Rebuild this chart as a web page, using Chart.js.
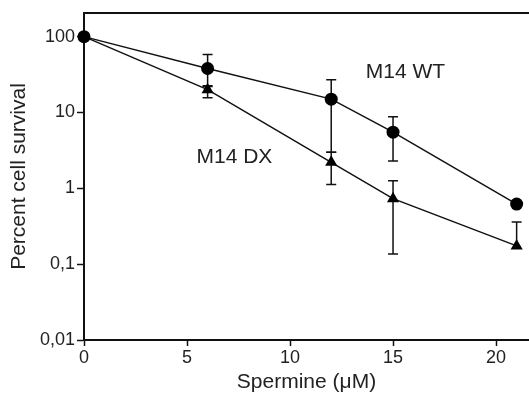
<!DOCTYPE html>
<html>
<head>
<meta charset="utf-8">
<script src="https://cdn.jsdelivr.net/npm/chart.js@4.4.1/dist/chart.umd.min.js"></script>
<style>
  html, body { margin: 0; padding: 0; background: #fff; }
  #wrap { width: 529px; height: 395px; }
</style>
</head>
<body>
<div id="wrap"><canvas id="chart" width="529" height="395"></canvas></div>
<script>
// spermine concentration (µM)
const spermine = [0, 6, 12, 15, 21];

// M14 WT - percent survival, with error bar ends
const wtSurvival = [100, 38, 15, 5.5, 0.62];
const wtUpper    = [null, 58, 27, 8.8, null];
const wtLower    = [null, 22, 3.0, 2.3, null];

// M14 DX
const dxSurvival = [100, 20, 2.2, 0.73, 0.174];
const dxUpper    = [null, 22.5, 3.0, 1.26, 0.36];
const dxLower    = [null, 15.6, 1.12, 0.136, null];

const xTicks = [0, 5, 10, 15, 20];
const yTicks = [100, 10, 1, 0.1, 0.01];
const yTickLabels = ['100', '10', '1', '0,1', '0,01'];

const FONT = '"Liberation Sans", Arial, Helvetica, sans-serif';

const toPoints = (xs, ys) => xs.map((x, i) => ({ x: x, y: ys[i] }));

// draws the vertical error bars with caps
const errorBars = {
    id: 'errorBars',
    beforeDatasetsDraw(chart) {
        const ctx = chart.ctx;
        const xs = chart.scales.x, ys = chart.scales.y;
        const sets = [[wtUpper, wtLower, wtSurvival], [dxUpper, dxLower, dxSurvival]];
        ctx.save();
        ctx.strokeStyle = '#111';
        ctx.lineWidth = 1.5;
        sets.forEach(([up, lo, val]) => {
            spermine.forEach((x, i) => {
                const px = xs.getPixelForValue(x);
                const top = up[i] != null ? up[i] : val[i];
                const bot = lo[i] != null ? lo[i] : val[i];
                if (top === bot) return;
                const y1 = ys.getPixelForValue(top), y2 = ys.getPixelForValue(bot);
                ctx.beginPath();
                ctx.moveTo(px, y1); ctx.lineTo(px, y2);
                if (up[i] != null) { ctx.moveTo(px - 5, y1); ctx.lineTo(px + 5, y1); }
                if (lo[i] != null) { ctx.moveTo(px - 5, y2); ctx.lineTo(px + 5, y2); }
                ctx.stroke();
            });
        });
        ctx.restore();
    }
};

// top frame line and series labels
const frameAndLabels = {
    id: 'frameAndLabels',
    afterDraw(chart) {
        const ctx = chart.ctx;
        const area = chart.chartArea;
        const xs = chart.scales.x, ys = chart.scales.y;
        ctx.save();
        ctx.strokeStyle = '#111';
        ctx.lineWidth = 2;
        ctx.beginPath();
        ctx.moveTo(area.left - 1, area.top);
        ctx.lineTo(chart.width, area.top);
        ctx.stroke();

        ctx.fillStyle = '#222';
        ctx.font = '21px ' + FONT;
        ctx.textAlign = 'center';
        ctx.textBaseline = 'middle';
        ctx.fillText('M14 WT', xs.getPixelForValue(15.6), ys.getPixelForValue(34));
        ctx.fillText('M14 DX', xs.getPixelForValue(7.3), ys.getPixelForValue(2.6));
        ctx.restore();
    }
};

new Chart(document.getElementById('chart'), {
    type: 'line',
    data: {
        datasets: [
            {
                label: 'M14 WT',
                data: toPoints(spermine, wtSurvival),
                borderColor: '#111',
                backgroundColor: '#000',
                borderWidth: 1.5,
                pointStyle: 'circle',
                pointRadius: 6.5,
                pointBorderWidth: 0,
                tension: 0,
                clip: false
            },
            {
                label: 'M14 DX',
                data: toPoints(spermine, dxSurvival),
                borderColor: '#111',
                backgroundColor: '#000',
                borderWidth: 1.5,
                pointStyle: 'triangle',
                pointRadius: 7,
                pointBorderWidth: 0,
                tension: 0,
                clip: false
            }
        ]
    },
    options: {
        responsive: false,
        animation: false,
        layout: { autoPadding: false, padding: { top: 13, right: 0, left: 0, bottom: 0 } },
        plugins: {
            legend: { display: false },
            tooltip: { enabled: false }
        },
        scales: {
            x: {
                type: 'linear',
                min: 0,
                max: 21.6,
                afterBuildTicks: s => { s.ticks = xTicks.map(v => ({ value: v })); },
                afterFit: s => { s.height = 55; },
                border: { display: true, color: '#111', width: 2 },
                grid: { drawOnChartArea: false, drawTicks: true, tickLength: 6, tickColor: '#111', tickWidth: 1.5 },
                ticks: { color: '#222', font: { family: FONT, size: 18 }, padding: 1, maxRotation: 0 },
                title: { display: true, text: 'Spermine (\u03bcM)', color: '#222', font: { family: FONT, size: 21 }, padding: { top: 0, bottom: 0 } }
            },
            y: {
                type: 'logarithmic',
                min: 0.01,
                max: 205,
                afterBuildTicks: s => { s.ticks = yTicks.map(v => ({ value: v })); },
                afterFit: s => { s.width = 84; },
                border: { display: true, color: '#111', width: 2 },
                grid: { drawOnChartArea: false, drawTicks: true, tickLength: 7, tickColor: '#111', tickWidth: 1.5 },
                ticks: {
                    color: '#222',
                    font: { family: FONT, size: 18 },
                    padding: 2,
                    callback: v => { const i = yTicks.indexOf(v); return i >= 0 ? yTickLabels[i] : ''; }
                },
                title: { display: true, text: 'Percent cell survival', color: '#222', font: { family: FONT, size: 21 }, padding: { top: 7, bottom: 0 } }
            }
        }
    },
    plugins: [errorBars, frameAndLabels]
});
</script>
</body>
</html>
